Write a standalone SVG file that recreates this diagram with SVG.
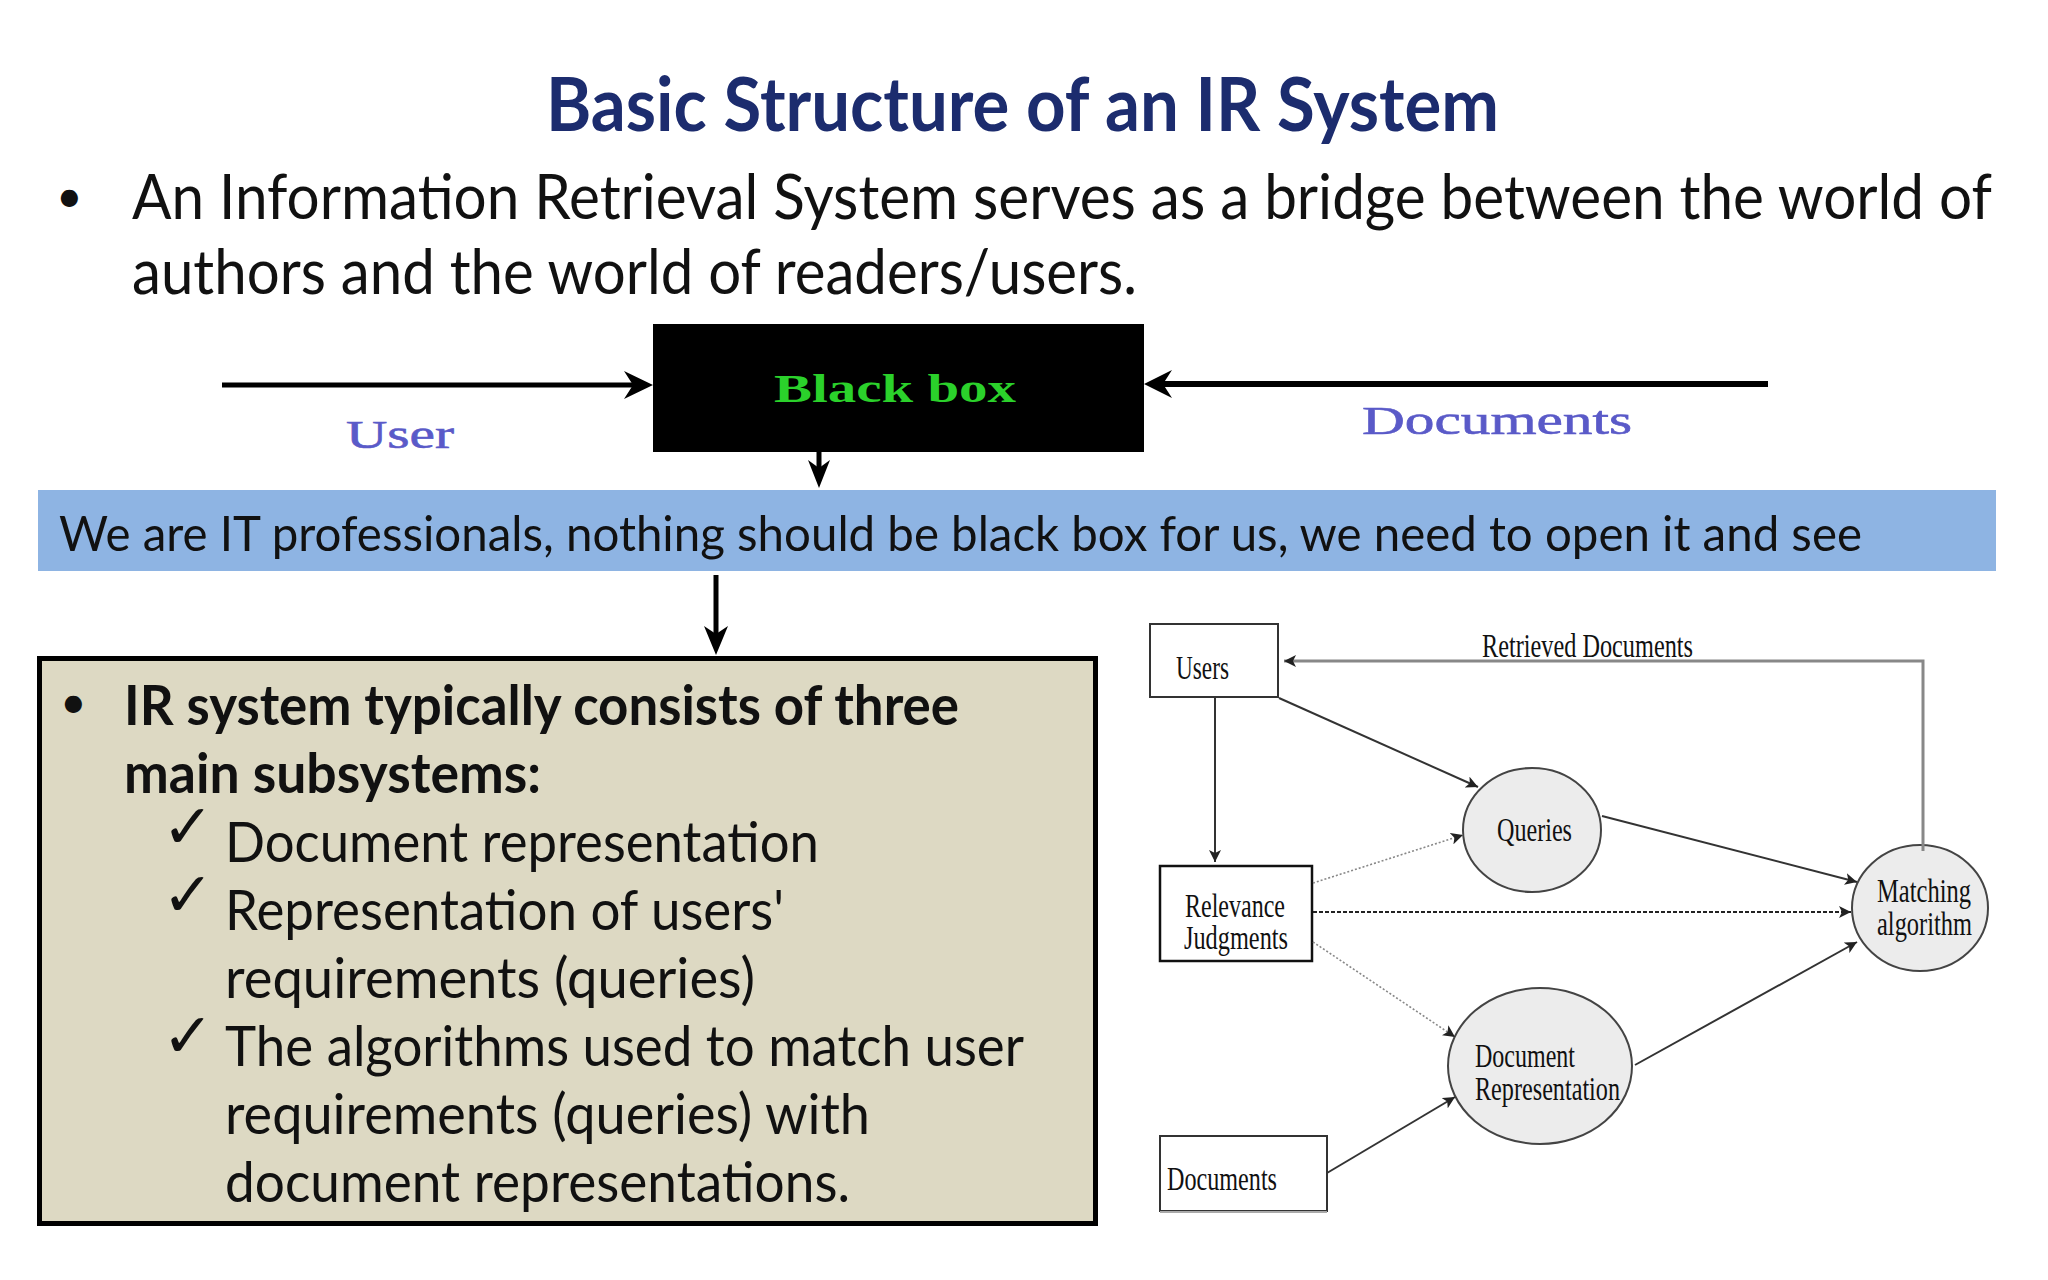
<svg xmlns="http://www.w3.org/2000/svg" width="2048" height="1280" viewBox="0 0 2048 1280">
<style>
.ttl{font-family:Lato,"Liberation Sans",sans-serif;font-weight:bold;font-size:74px;fill:#1C2C6E}
.body{font-family:Lato,"Liberation Sans",sans-serif;font-size:62px;fill:#111}
.ban{font-family:Lato,"Liberation Sans",sans-serif;font-size:49px;fill:#111}
.bx{font-family:Lato,"Liberation Sans",sans-serif;font-size:56px;fill:#111}
.bxb{font-family:Lato,"Liberation Sans",sans-serif;font-size:56px;font-weight:bold;fill:#111}
.bul{font-family:Lato,"Liberation Sans",sans-serif;font-size:46px;fill:#111}
.chk{font-family:"DejaVu Sans",sans-serif;font-size:62px;fill:#111}
.lbl{font-family:"Liberation Serif",serif;font-size:40px;fill:#5A5AC8;stroke:#5A5AC8;stroke-width:0.6}
.dg{font-family:"Liberation Serif",serif;font-size:33px;fill:#111}
.nodebox{fill:#fff;stroke:#333;stroke-width:2}
.circ{fill:#ECECEC;stroke:#444;stroke-width:2}
.solid{fill:none;stroke:#333;stroke-width:2}
.dotg{fill:none;stroke:#888;stroke-width:1.6;stroke-dasharray:2 2}
.dash{fill:none;stroke:#222;stroke-width:2;stroke-dasharray:4 2}
</style>
<defs>
<marker id="ah" markerUnits="userSpaceOnUse" markerWidth="14" markerHeight="12" refX="12" refY="6" orient="auto">
<path d="M0,0 L12,6 L0,12 L3,6 Z" fill="#222"/>
</marker>
</defs>
<rect width="2048" height="1280" fill="#fff"/>

<g id="title">
<text class="ttl" x="546" y="131" textLength="953" lengthAdjust="spacingAndGlyphs">Basic Structure of an IR System</text>
</g>

<g id="intro">
<text class="bul" x="56" y="212">•</text>
<text class="body" x="132" y="219" textLength="1860" lengthAdjust="spacingAndGlyphs">An Information Retrieval System serves as a bridge between the world of</text>
<text class="body" x="132" y="294" textLength="1005" lengthAdjust="spacingAndGlyphs">authors and the world of readers/users.</text>
</g>

<g id="blackbox">
<rect x="653" y="324" width="491" height="128" fill="#000"/>
<text x="774" y="402" font-family="Liberation Serif,serif" font-weight="bold" font-size="40" fill="#2BD12B" textLength="242" lengthAdjust="spacingAndGlyphs">Black box</text>
</g>

<g id="user-label">
<text class="lbl" x="346" y="448" textLength="108" lengthAdjust="spacingAndGlyphs">User</text>
</g>
<g id="documents-label">
<text class="lbl" x="1362" y="434" textLength="270" lengthAdjust="spacingAndGlyphs">Documents</text>
</g>

<g id="banner">
<rect x="38" y="490" width="1958" height="81" fill="#8EB4E3"/>
<text class="ban" x="59" y="551" textLength="1803" lengthAdjust="spacingAndGlyphs">We are IT professionals, nothing should be black box for us, we need to open it and see</text>
</g>

<g id="subsystems">
<rect x="39.5" y="658.5" width="1056" height="565" fill="#DDD9C3" stroke="#000" stroke-width="5"/>
<text class="bul" x="60" y="718">•</text>
<text class="bxb" x="124" y="725" textLength="835" lengthAdjust="spacingAndGlyphs">IR system typically consists of three</text>
<text class="bxb" x="124" y="793" textLength="417" lengthAdjust="spacingAndGlyphs">main subsystems:</text>
<text class="chk" x="162" y="848">✓</text>
<text class="bx" x="225" y="862" textLength="594" lengthAdjust="spacingAndGlyphs">Document representation</text>
<text class="chk" x="162" y="916">✓</text>
<text class="bx" x="225" y="930" textLength="559" lengthAdjust="spacingAndGlyphs">Representation of users'</text>
<text class="bx" x="225" y="998" textLength="530" lengthAdjust="spacingAndGlyphs">requirements (queries)</text>
<text class="chk" x="162" y="1057">✓</text>
<text class="bx" x="225" y="1066" textLength="799" lengthAdjust="spacingAndGlyphs">The algorithms used to match user</text>
<text class="bx" x="225" y="1134" textLength="645" lengthAdjust="spacingAndGlyphs">requirements (queries) with</text>
<text class="bx" x="225" y="1202" textLength="625" lengthAdjust="spacingAndGlyphs">document representations.</text>
</g>

<g id="node-users">
<rect class="nodebox" x="1150" y="624" width="128" height="73"/>
<text class="dg" x="1176" y="679" textLength="53" lengthAdjust="spacingAndGlyphs">Users</text>
</g>
<g id="node-relevance">
<rect x="1160" y="866" width="152" height="95" fill="#fff" stroke="#111" stroke-width="2.5"/>
<text class="dg" x="1185" y="917" textLength="100" lengthAdjust="spacingAndGlyphs">Relevance</text>
<text class="dg" x="1184" y="949" textLength="104" lengthAdjust="spacingAndGlyphs">Judgments</text>
</g>
<g id="node-documents">
<rect class="nodebox" x="1160" y="1136" width="167" height="75"/>
<line x1="1160" y1="1212" x2="1327" y2="1212" stroke="#aaa" stroke-width="2"/>
<text class="dg" x="1167" y="1190" textLength="110" lengthAdjust="spacingAndGlyphs">Documents</text>
</g>
<g id="node-queries">
<ellipse class="circ" cx="1532" cy="830" rx="69" ry="62"/>
<text class="dg" x="1497" y="841" textLength="75" lengthAdjust="spacingAndGlyphs">Queries</text>
</g>
<g id="node-docrep">
<ellipse class="circ" cx="1540" cy="1066" rx="92" ry="78"/>
<text class="dg" x="1475" y="1067" textLength="100" lengthAdjust="spacingAndGlyphs">Document</text>
<text class="dg" x="1475" y="1100" textLength="145" lengthAdjust="spacingAndGlyphs">Representation</text>
</g>
<g id="node-matching">
<ellipse class="circ" cx="1920" cy="908" rx="68" ry="63"/>
<text class="dg" x="1877" y="902" textLength="94" lengthAdjust="spacingAndGlyphs">Matching</text>
<text class="dg" x="1877" y="935" textLength="95" lengthAdjust="spacingAndGlyphs">algorithm</text>
</g>
<g id="retrieved-label">
<text class="dg" x="1482" y="657" textLength="211" lengthAdjust="spacingAndGlyphs">Retrieved Documents</text>
</g>

<g id="connectors">
<line x1="222" y1="385" x2="640" y2="385" stroke="#000" stroke-width="5"/>
<path d="M624,371 L653,385 L624,399 L633,385 Z" fill="#000"/>
<line x1="1768" y1="384" x2="1156" y2="384" stroke="#000" stroke-width="6"/>
<path d="M1172,370 L1144,384 L1172,398 L1163,384 Z" fill="#000"/>
<line x1="819" y1="452" x2="819" y2="472" stroke="#000" stroke-width="5"/>
<path d="M808,460 L819,488 L830,460 L819,468 Z" fill="#000"/>
<line x1="716" y1="575" x2="716" y2="640" stroke="#000" stroke-width="5"/>
<path d="M704,626 L716,655 L728,626 L716,634 Z" fill="#000"/>

<polyline points="1923,851 1923,661 1284,661" fill="none" stroke="#888" stroke-width="3" marker-end="url(#ah)"/>
<line class="solid" x1="1215" y1="698" x2="1215" y2="862" stroke-width="1.6" marker-end="url(#ah)"/>
<line class="solid" x1="1279" y1="698" x2="1478" y2="787" marker-end="url(#ah)"/>
<line class="dotg" x1="1313" y1="883" x2="1463" y2="835" marker-end="url(#ah)"/>
<line class="dash" x1="1313" y1="912" x2="1851" y2="912" marker-end="url(#ah)"/>
<line class="dotg" x1="1313" y1="942" x2="1455" y2="1037" marker-end="url(#ah)"/>
<line class="solid" x1="1602" y1="816" x2="1857" y2="882" marker-end="url(#ah)"/>
<line class="solid" x1="1635" y1="1065" x2="1857" y2="942" marker-end="url(#ah)"/>
<line class="solid" x1="1327" y1="1173" x2="1455" y2="1097" marker-end="url(#ah)"/>
</g>
</svg>
